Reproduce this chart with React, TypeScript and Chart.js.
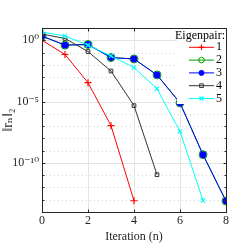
import React, { useEffect, useRef } from "react";
import { Chart, registerables } from "chart.js";
import { drawPoint } from "chart.js/helpers";

Chart.register(...registerables);

const iterations = [0, 1, 2, 3, 4, 5, 6, 7, 8];
const pair1 = [1.0, 6.9e-2, 3.5e-4, 1.1e-7, 8.3e-14];
const pair2 = [2.2, 4.0e-1, 4.5e-1, 3.9e-2, 3.0e-2, 1.5e-3, 7.8e-6, 4.7e-10, 7.8e-14];
const pair3 = [2.2, 4.0e-1, 4.5e-1, 3.9e-2, 3.0e-2, 1.5e-3, 7.8e-6, 4.7e-10, 7.8e-14];
const pair4 = [3.2, 1.4, 1.2e-1, 3.1e-3, 4.7e-6, 1.1e-11];
const pair5 = [4.8, 2.2, 4.0e-1, 5.2e-2, 6.0e-3, 1.1e-4, 3.7e-8, 8.9e-14];
const seriesLabels = ["1", "2", "3", "4", "5"];
const yTickValues = [1, 1e-5, 1e-10];
const yTickLabels = ["10\u2070", "10\u207B\u2075", "10\u207B\u00B9\u2070"];
const xTickValues = [0, 2, 4, 6, 8];
const legendTitle = "Eigenpair:";
const xTitle = "Iteration (n)";
const yTitle = "\u2016r\u2099\u2016\u2082";

const SERIF = "'Liberation Serif', 'DejaVu Serif', serif";
const AXIS = "#262626";

const styles = [
  { color: "#ff0000", pointStyle: "cross", radius: 3.5, fill: false, bw: 1.2 },
  { color: "#00a000", pointStyle: "circle", radius: 4, fill: false, bw: 1 },
  { color: "#0000ff", pointStyle: "circle", radius: 3.4, fill: true, bw: 0 },
  { color: "#333333", pointStyle: "rect", radius: 2.6, fill: false, bw: 1 },
  { color: "#00ffff", pointStyle: "crossRot", radius: 3, fill: false, bw: 1.2 },
];

const seriesValues = [pair1, pair2, pair3, pair4, pair5];

const framePlugin = {
  id: "frame",
  beforeDatasetsDraw(chart: any) {
    const { ctx, chartArea: a, scales } = chart;
    const x = scales.x;
    const y = scales.y;
    ctx.save();
    ctx.lineWidth = 1;
    for (let e = -13; e <= 0; e++) {
      if (e % 5 === 0) continue;
      const v = Math.pow(10, e);
      const py = Math.round(y.getPixelForValue(v)) + 0.5;
      ctx.strokeStyle = "rgba(0,0,0,0.18)";
      ctx.setLineDash([1, 3]);
      ctx.beginPath();
      ctx.moveTo(a.left, py);
      ctx.lineTo(a.right, py);
      ctx.stroke();
    }
    ctx.setLineDash([]);
    ctx.strokeStyle = "#e4e4e4";
    yTickValues.forEach((v) => {
      const py = Math.round(y.getPixelForValue(v)) + 0.5;
      ctx.beginPath();
      ctx.moveTo(a.left, py);
      ctx.lineTo(a.right, py);
      ctx.stroke();
    });
    xTickValues.forEach((v) => {
      const px = Math.round(x.getPixelForValue(v)) + 0.5;
      ctx.beginPath();
      ctx.moveTo(px, a.top);
      ctx.lineTo(px, a.bottom);
      ctx.stroke();
    });
    ctx.restore();
  },
  afterDatasetsDraw(chart: any) {
    const { ctx, chartArea: a, scales } = chart;
    const x = scales.x;
    const y = scales.y;
    ctx.save();
    ctx.strokeStyle = AXIS;
    ctx.lineWidth = 1;
    const L = Math.round(a.left) + 0.5;
    const R = Math.round(a.right) + 0.5;
    const T = Math.round(a.top) + 0.5;
    const B = Math.round(a.bottom) + 0.5;
    ctx.strokeRect(L, T, R - L, B - T);
    ctx.beginPath();
    for (let e = -14; e <= 1; e++) {
      const v = Math.pow(10, e);
      const py = Math.round(y.getPixelForValue(v)) + 0.5;
      const len = e % 5 === 0 ? 3 : 2;
      ctx.moveTo(L, py);
      ctx.lineTo(L + len, py);
      ctx.moveTo(R, py);
      ctx.lineTo(R - len, py);
    }
    xTickValues.forEach((v) => {
      const px = Math.round(x.getPixelForValue(v)) + 0.5;
      ctx.moveTo(px, B);
      ctx.lineTo(px, B - 3);
      ctx.moveTo(px, T);
      ctx.lineTo(px, T + 3);
    });
    ctx.stroke();

    // legend
    const lx0 = 177;
    const ly0 = T + 0.5;
    ctx.fillStyle = "#ffffff";
    ctx.fillRect(lx0, ly0, R - 0.5 - lx0, 104 - ly0);
    ctx.fillStyle = "#000000";
    ctx.font = `12px ${SERIF}`;
    ctx.textAlign = "right";
    ctx.textBaseline = "middle";
    ctx.fillText(legendTitle, 225, 36);
    styles.forEach((st, i) => {
      const cy = 47.3 + i * 12.8;
      ctx.strokeStyle = st.color;
      ctx.lineWidth = 1;
      ctx.beginPath();
      ctx.moveTo(189, cy);
      ctx.lineTo(214, cy);
      ctx.stroke();
      ctx.fillStyle = st.fill ? st.color : "rgba(0,0,0,0)";
      ctx.strokeStyle = st.color;
      ctx.lineWidth = st.bw || 1;
      drawPoint(ctx, { pointStyle: st.pointStyle, radius: Math.min(st.radius, 2.8), rotation: 0, borderWidth: st.bw }, 201.5, cy);
      ctx.fillStyle = "#000000";
      ctx.textAlign = "left";
      ctx.fillText(seriesLabels[i], 216, cy);
    });
    ctx.restore();
  },
};

export default function App() {
  const ref = useRef<HTMLCanvasElement>(null);
  useEffect(() => {
    document.body.style.margin = "0";
    const canvas = ref.current!;
    const datasets = seriesValues.map((vals, i) => {
      const st = styles[i];
      return {
        label: seriesLabels[i],
        data: vals.map((v, j) => ({ x: iterations[j], y: v })),
        order: 10 - i,
        borderColor: st.color,
        backgroundColor: st.fill ? st.color : "rgba(0,0,0,0)",
        pointBorderColor: st.color,
        pointBackgroundColor: st.fill ? st.color : "rgba(0,0,0,0)",
        pointStyle: st.pointStyle,
        pointRadius: st.radius,
        pointBorderWidth: st.bw,
        borderWidth: 1,
        tension: 0,
        fill: false,
      };
    });
    const chart = new Chart(canvas, {
      type: "line",
      data: { datasets },
      options: {
        responsive: false,
        animation: false,
        layout: { padding: { top: 28, right: 24, left: 0, bottom: 0 } },
        plugins: { legend: { display: false }, tooltip: { enabled: false } },
        scales: {
          x: {
            type: "linear",
            min: 0,
            max: 8,
            afterBuildTicks: (s: any) => {
              s.ticks = xTickValues.map((v) => ({ value: v }));
            },
            afterFit: (s: any) => {
              s.height = 38;
            },
            grid: { display: false, drawTicks: false },
            border: { display: false },
            ticks: {
              color: AXIS,
              font: { family: SERIF, size: 12 },
              padding: 2,
              maxRotation: 0,
              autoSkip: false,
            },
            title: {
              display: true,
              text: xTitle,
              color: AXIS,
              font: { family: SERIF, size: 12 },
              padding: { top: 0, bottom: 6 },
            },
          },
          y: {
            type: "logarithmic",
            min: 1e-14,
            max: 10,
            afterBuildTicks: (s: any) => {
              s.ticks = yTickValues.map((v) => ({ value: v }));
            },
            afterFit: (s: any) => {
              s.width = 42;
            },
            grid: { display: false, drawTicks: false },
            border: { display: false },
            ticks: {
              color: AXIS,
              font: { family: SERIF, size: 12 },
              padding: 3,
              autoSkip: false,
              callback: (v: any) => {
                const k = yTickValues.indexOf(Number(v));
                return k >= 0 ? yTickLabels[k] : "";
              },
            },
            title: {
              display: true,
              text: yTitle,
              color: AXIS,
              font: { family: SERIF, size: 14 },
              padding: { top: 0, bottom: 0 },
            },
          },
        },
      },
      plugins: [framePlugin],
    } as any);
    return () => chart.destroy();
  }, []);
  return (
    <div style={{ width: 250, height: 250 }}>
      <canvas ref={ref} width={250} height={250} />
    </div>
  );
}
